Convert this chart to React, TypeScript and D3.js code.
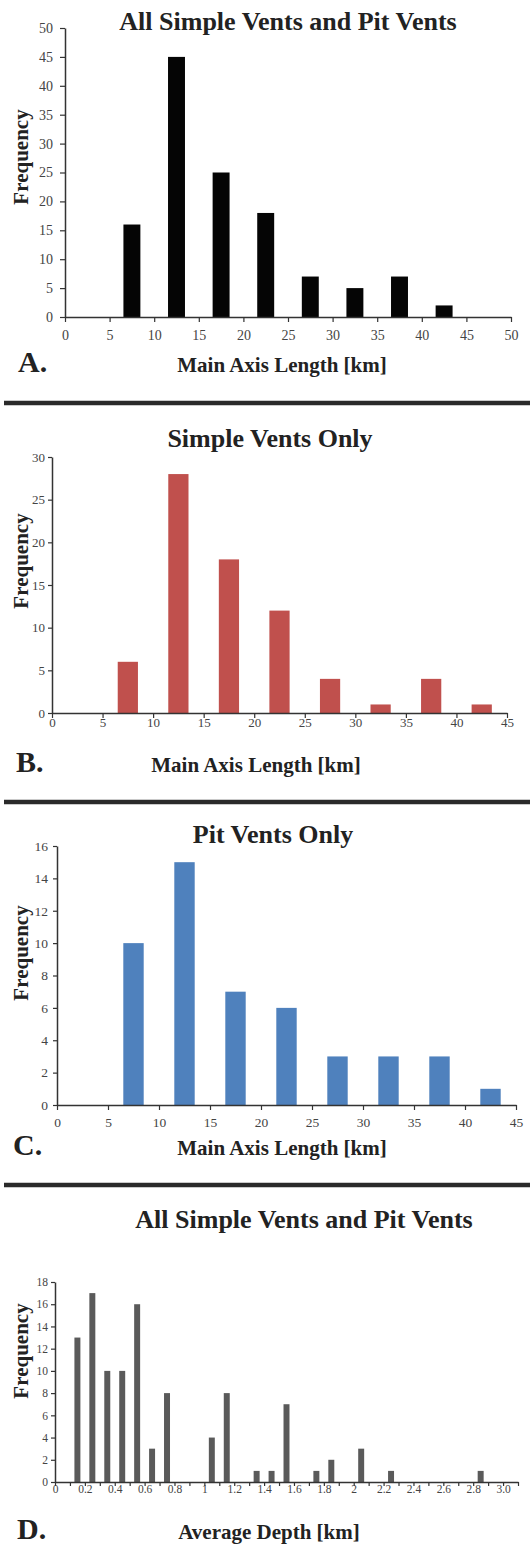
import React, { useEffect, useRef } from "react";
import * as d3 from "d3";

// bin start values (km), bins are 5 km wide
const lengthBins = [5, 10, 15, 20, 25, 30, 35, 40];
const allCounts = [16, 45, 25, 18, 7, 5, 7, 2];
const simpleCounts = [6, 28, 18, 12, 4, 1, 4, 1];
const pitCounts = [10, 15, 7, 6, 3, 3, 3, 1];

// depth bins are 0.1 km wide
const depthBins = [
  0.1, 0.2, 0.3, 0.4, 0.5, 0.6, 0.7, 0.8, 0.9, 1.0, 1.1, 1.2, 1.3, 1.4, 1.5,
  1.6, 1.7, 1.8, 1.9, 2.0, 2.1, 2.2, 2.3, 2.4, 2.5, 2.6, 2.7, 2.8, 2.9, 3.0,
];
const depthCounts = [
  13, 17, 10, 10, 16, 3, 8, 0, 0, 4, 8, 0, 1, 1, 7,
  0, 1, 2, 0, 3, 0, 1, 0, 0, 0, 0, 0, 1, 0, 0,
];

const lengthTicksA = [0, 5, 10, 15, 20, 25, 30, 35, 40, 45, 50];
const lengthTicks = [0, 5, 10, 15, 20, 25, 30, 35, 40, 45];
const freqTicksA = [0, 5, 10, 15, 20, 25, 30, 35, 40, 45, 50];
const freqTicksB = [0, 5, 10, 15, 20, 25, 30];
const freqTicksC = [0, 2, 4, 6, 8, 10, 12, 14, 16];
const freqTicksD = [0, 2, 4, 6, 8, 10, 12, 14, 16, 18];
const depthTicks = [
  0, 0.1, 0.2, 0.3, 0.4, 0.5, 0.6, 0.7, 0.8, 0.9, 1.0, 1.1, 1.2, 1.3, 1.4, 1.5,
  1.6, 1.7, 1.8, 1.9, 2.0, 2.1, 2.2, 2.3, 2.4, 2.5, 2.6, 2.7, 2.8, 2.9, 3.0, 3.1,
];
const depthLabelValues = [0, 0.2, 0.4, 0.6, 0.8, 1, 1.2, 1.4, 1.6, 1.8, 2, 2.2, 2.4, 2.6, 2.8, 3.0];
const depthTickLabels = ["0", "0.2", "0.4", "0.6", "0.8", "1", "1.2", "1.4", "1.6", "1.8", "2", "2.2", "2.4", "2.6", "2.8", "3.0"];

const serif = "'Liberation Serif', 'Times New Roman', serif";

function drawPanel(svg: any, p: any) {
  const x = d3.scaleLinear().domain(p.xDomain).range([p.left, p.right]);
  const y = d3.scaleLinear().domain(p.yDomain).range([p.bottom, p.top]);
  const g = svg.append("g");

  const barW = (x(p.binWidth) - x(0)) * p.barFrac;
  g.selectAll("rect")
    .data(p.bins.map((b: number, i: number) => ({ b, v: p.counts[i] })))
    .join("rect")
    .attr("x", (d: any) => x(d.b + p.binWidth / 2) - barW / 2)
    .attr("width", barW)
    .attr("y", (d: any) => y(d.v))
    .attr("height", (d: any) => y(0) - y(d.v))
    .attr("fill", p.color);

  const xAxis = d3
    .axisBottom(x)
    .tickValues(p.xTicks)
    .tickSize(p.xTickLen)
    .tickSizeOuter(0)
    .tickFormat(p.xFormat);
  const xg = g.append("g").attr("transform", `translate(0, ${p.bottom})`).call(xAxis);
  xg.selectAll(".tick text").attr("y", p.xLabelOffset).attr("dy", 0);

  const yAxis = d3
    .axisLeft(y)
    .tickValues(p.yTicks)
    .tickSize(p.yTickLen)
    .tickSizeOuter(0)
    .tickFormat(d3.format("d"));
  const yg = g.append("g").attr("transform", `translate(${p.left}, 0)`).call(yAxis);
  yg.selectAll(".tick text").attr("x", -p.yLabelOffset);

  [xg, yg].forEach((ax: any) => {
    ax.attr("font-family", null).attr("font-size", null);
    ax.select(".domain").attr("stroke", "#333").attr("stroke-width", 1.5);
    ax.selectAll(".tick line").attr("stroke", "#333").attr("stroke-width", 1.2);
    ax.selectAll(".tick text")
      .attr("fill", "#444")
      .style("font-family", serif)
      .style("font-size", `${p.tickFont}px`);
  });

  g.append("text")
    .attr("x", p.titleX)
    .attr("y", p.titleY)
    .attr("text-anchor", "middle")
    .style("font-family", serif)
    .style("font-weight", "bold")
    .style("font-size", "26px")
    .attr("fill", "#222")
    .text(p.title);

  g.append("text")
    .attr("transform", `translate(28, ${p.freqY}) rotate(-90)`)
    .attr("text-anchor", "middle")
    .style("font-family", serif)
    .style("font-weight", "bold")
    .style("font-size", "21px")
    .attr("fill", "#222")
    .text("Frequency");

  g.append("text")
    .attr("x", p.xTitleX)
    .attr("y", p.xTitleY)
    .attr("text-anchor", "middle")
    .style("font-family", serif)
    .style("font-weight", "bold")
    .style("font-size", "21px")
    .attr("fill", "#222")
    .text(p.xTitle);

  g.append("text")
    .attr("x", p.letterX)
    .attr("y", p.xTitleY)
    .style("font-family", serif)
    .style("font-weight", "bold")
    .style("font-size", "30px")
    .attr("fill", "#222")
    .text(p.letter);
}

export default function App() {
  const ref = useRef<SVGSVGElement>(null);

  useEffect(() => {
    const svg = d3.select(ref.current);
    svg.selectAll("*").remove();

    drawPanel(svg, {
      bins: lengthBins, counts: allCounts, binWidth: 5, barFrac: 0.38, color: "#050505",
      xDomain: [0, 50], yDomain: [0, 50], left: 65, right: 511, top: 28, bottom: 317,
      xTicks: lengthTicksA, yTicks: freqTicksA, xFormat: d3.format("d"),
      xTickLen: 5, yTickLen: 5, xLabelOffset: 23, yLabelOffset: 12, tickFont: 14,
      title: "All Simple Vents and Pit Vents", titleX: 288, titleY: 30,
      freqY: 157, xTitle: "Main Axis Length [km]", xTitleX: 282, xTitleY: 372,
      letter: "A.", letterX: 18,
    });

    drawPanel(svg, {
      bins: lengthBins, counts: simpleCounts, binWidth: 5, barFrac: 0.4, color: "#C0504D",
      xDomain: [0, 45], yDomain: [0, 30], left: 52, right: 507, top: 457, bottom: 713,
      xTicks: lengthTicks, yTicks: freqTicksB, xFormat: d3.format("d"),
      xTickLen: 5, yTickLen: 4, xLabelOffset: 14, yLabelOffset: 7, tickFont: 13,
      title: "Simple Vents Only", titleX: 270, titleY: 447,
      freqY: 561, xTitle: "Main Axis Length [km]", xTitleX: 256, xTitleY: 772,
      letter: "B.", letterX: 16,
    });

    drawPanel(svg, {
      bins: lengthBins, counts: pitCounts, binWidth: 5, barFrac: 0.4, color: "#4F81BD",
      xDomain: [0, 45], yDomain: [0, 16], left: 57, right: 516, top: 846, bottom: 1105,
      xTicks: lengthTicks, yTicks: freqTicksC, xFormat: d3.format("d"),
      xTickLen: 5, yTickLen: 4, xLabelOffset: 22, yLabelOffset: 9, tickFont: 13.5,
      title: "Pit Vents Only", titleX: 273, titleY: 843,
      freqY: 953, xTitle: "Main Axis Length [km]", xTitleX: 282, xTitleY: 1155,
      letter: "C.", letterX: 13,
    });

    drawPanel(svg, {
      bins: depthBins, counts: depthCounts, binWidth: 0.1, barFrac: 0.4, color: "#5a5a5a",
      xDomain: [0, 3.1], yDomain: [0, 18], left: 55, right: 518, top: 1282, bottom: 1482,
      xTicks: depthTicks, yTicks: freqTicksD,
      xFormat: (d: number) => {
        const i = depthLabelValues.findIndex((v) => Math.abs(v - d) < 1e-6);
        return i >= 0 ? depthTickLabels[i] : "";
      },
      xTickLen: 4, yTickLen: 4, xLabelOffset: 11, yLabelOffset: 7, tickFont: 11.5,
      title: "All Simple Vents and Pit Vents", titleX: 304, titleY: 1228,
      freqY: 1351, xTitle: "Average Depth [km]", xTitleX: 269, xTitleY: 1539,
      letter: "D.", letterX: 17,
    });

    // separators between panels
    [403, 802, 1185].forEach((yy) => {
      svg.append("line")
        .attr("x1", 4).attr("x2", 530)
        .attr("y1", yy).attr("y2", yy)
        .attr("stroke", "#2a2a2a").attr("stroke-width", 4.5);
    });
  }, []);

  return (
    <>
      <style>{"body{margin:0}"}</style>
      <svg ref={ref} width={530} height={1547} style={{ display: "block", background: "#fff" }} />
    </>
  );
}
